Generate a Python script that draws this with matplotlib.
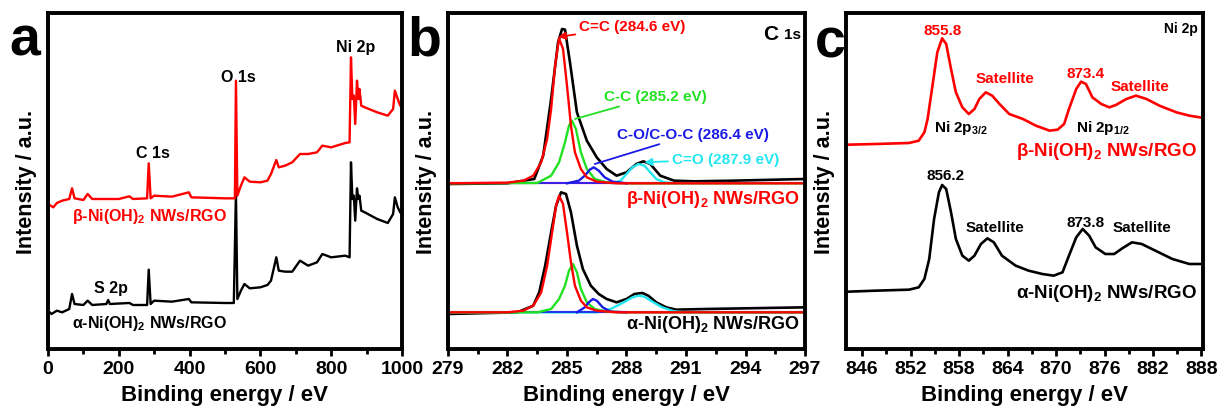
import numpy as np
import matplotlib
matplotlib.use('Agg')
import matplotlib.pyplot as plt

plt.rcParams['font.family'] = ['Liberation Sans', 'DejaVu Sans']
plt.rcParams['font.weight'] = 'bold'
plt.rcParams['mathtext.fontset'] = 'custom'
plt.rcParams['mathtext.rm'] = 'Liberation Sans:bold'
plt.rcParams['mathtext.it'] = 'Liberation Sans:bold'
plt.rcParams['mathtext.bf'] = 'Liberation Sans:bold'

# ---- panel a : survey spectra (binding energy eV, intensity a.u.)
sv_be_beta = [0, 15, 25, 40, 60, 68, 75, 100, 112, 125, 200, 230, 240, 280, 284.6, 290, 300, 350, 398, 405,
              500, 528, 531, 535, 545, 555, 570, 600, 620, 630, 645, 652, 670, 690, 712, 735, 760, 775, 800,
              840, 852, 856, 860, 864, 868, 873, 877, 880, 885, 895, 930, 960, 975, 980, 988, 995, 1000]
sv_int_beta = [43.5, 42.5, 43.8, 44.5, 45, 48.2, 45.2, 44.7, 46.5, 45, 45, 45.8, 45, 45.2, 55.7, 45.2, 46, 45.7, 47, 45.5,
               45.2, 45.2, 80.5, 46, 49, 51.5, 50.2, 50, 50.5, 52.5, 56.7, 54.5, 55, 56, 58.5, 58.5, 59, 61, 60.5,
               61.8, 62, 87.5, 75, 76, 67.5, 80.5, 75, 78, 73, 72.5, 71, 70, 72, 77.5, 75, 73, 73.2]
sv_be_alpha = [0, 10, 25, 40, 60, 68, 75, 100, 112, 125, 165, 170, 175, 230, 240, 280, 284.6, 290, 300, 350, 398, 405,
               500, 525, 531, 535, 545, 555, 570, 600, 620, 630, 645, 652, 670, 690, 712, 735, 760, 775, 800,
               840, 852, 856, 860, 864, 868, 873, 877, 880, 885, 895, 930, 960, 975, 980, 988, 995, 1000]
sv_int_alpha = [11.5, 10.5, 11.5, 11, 12, 16.5, 13.5, 13.2, 14.5, 13.2, 13.5, 14.7, 13.5, 13.8, 13.2, 13.2, 23.8, 13.5, 14.5, 14.2, 15, 14,
                13.8, 13.8, 47, 15, 17.5, 19.5, 18.2, 18.5, 19.2, 20.5, 27.5, 23.5, 23.2, 23.2, 26.5, 25, 26, 28.5, 27.5,
                28, 27.5, 56, 45, 46, 38.5, 48.2, 45, 46, 41.5, 41, 39, 37.8, 40.5, 45.5, 42.5, 41, 40.5]

# ---- panel b : C 1s
c_be_beta = [279, 282, 283.35, 283.8, 284.2, 284.55, 284.75, 284.9, 285.15, 285.5, 286.0, 286.5, 287.0, 287.5,
             288.0, 288.5, 288.85, 289.2, 289.7, 290.4, 291.4, 293.4, 297]
c_int_beta = [49.5, 49.7, 51, 58, 75, 92, 96, 95.8, 86, 71, 62.5, 57.5, 54, 52,
              53, 55.5, 56.3, 55.5, 52, 50.5, 50.3, 50.5, 51]
cc_be_beta = [279, 282, 282.8, 283.3, 283.7, 284.0, 284.2, 284.4, 284.6, 284.8, 285.0, 285.2, 285.4, 285.7, 286.0, 286.5, 287.5, 297]
cc_int_beta = [49.7, 49.9, 50.5, 52, 56, 63, 72, 85, 93.2, 90, 79, 67, 59, 54, 51.5, 50.2, 49.7, 49.7]
c1_be_beta = [279, 283.5, 284.2, 284.6, 284.9, 285.1, 285.25, 285.45, 285.7, 286.0, 286.4, 287, 288, 297]
c1_int_beta = [49.7, 49.8, 52, 56, 62, 67, 68.5, 66, 59, 54, 51, 50, 49.7, 49.7]
co_be_beta = [285.0, 285.6, 285.9, 286.15, 286.35, 286.6, 286.9, 287.3, 288]
co_int_beta = [49.7, 50.5, 52, 53.8, 54.5, 53.5, 51.5, 50.2, 49.7]
cdo_be_beta = [287.3, 287.7, 288.0, 288.3, 288.6, 288.9, 289.2, 289.5, 289.9, 290.5]
cdo_int_beta = [49.7, 50.5, 52.5, 54.5, 55.5, 55, 53, 51, 50, 49.7]

c_be_alpha = [279, 282.5, 283.3, 283.6, 283.9, 284.2, 284.45, 284.7, 284.95, 285.2, 285.5, 285.8, 286.2, 286.6,
              287.0, 287.5, 288.0, 288.4, 288.8, 289.1, 289.5, 290.0, 290.5, 292, 297]
c_int_alpha = [10.5, 11, 13, 17, 25, 35, 43, 47, 46.5, 41, 31, 24, 19, 16.5,
               15, 14, 15, 16.5, 16.8, 16, 14, 12.5, 11.8, 12, 12.5]
cc_be_alpha = [279, 282, 282.8, 283.3, 283.7, 284.0, 284.25, 284.45, 284.6, 284.8, 285.0, 285.2, 285.4, 285.7, 286.0, 286.5, 287.5, 297]
cc_int_alpha = [11, 11, 11.5, 13, 17, 25, 35, 43, 46, 43.5, 35, 26, 19, 14.5, 12.5, 11.5, 11, 11]
c1_be_alpha = [279, 283.5, 284.2, 284.6, 284.9, 285.1, 285.3, 285.5, 285.7, 286.0, 286.4, 287, 288, 297]
c1_int_alpha = [11, 11, 12, 15, 19, 23.5, 25.5, 23, 18, 14, 12, 11.2, 11, 11]
co_be_alpha = [285.5, 285.9, 286.1, 286.3, 286.5, 286.8, 287.2, 288]
co_int_alpha = [11, 12.5, 14, 15, 14.5, 12.5, 11.2, 11]
cdo_be_alpha = [279, 286.5, 287.2, 287.8, 288.3, 288.6, 288.9, 289.3, 289.8, 290.4, 291, 297]
cdo_int_alpha = [11, 11, 12, 13.8, 15.5, 16, 15.7, 14.2, 12.5, 11.3, 11, 11]
base_beta = 49.7
base_alpha = 11

# ---- panel c : Ni 2p
ni_be = [844.3, 847.7, 851.8, 853.0, 853.7, 854.1, 854.7, 855.3, 855.9, 856.4, 857.0, 857.6, 858.4, 859.2, 859.9,
         860.5, 861.3, 862.1, 863.0, 864.2, 865.9, 867.5, 869.2, 870.2, 871.0, 871.6, 872.5, 873.1, 873.7, 874.5,
         875.6, 876.6, 877.4, 878.7, 879.9, 881.2, 882.8, 884.9, 886.5, 887.8]
ni_int_beta = [61.3, 61.5, 61.8, 62.5, 65, 69, 79, 89, 93.2, 91.5, 84, 77, 72.5, 70.5, 72,
               75, 77, 76, 73.5, 70.5, 69, 67, 65.5, 65.8, 67.5, 72, 78, 80.2, 79.5, 75.5,
               73.5, 72.5, 73.2, 75, 76, 75, 73, 71, 70, 69.5]
ni_be_alpha = [844.3, 847.7, 851.8, 853.0, 853.7, 854.3, 854.9, 855.5, 855.9, 856.4, 857.0, 857.6, 858.4, 859.2, 859.9,
               860.7, 861.5, 862.3, 863.3, 865.0, 866.6, 868.3, 869.7, 870.8, 871.6, 872.5, 873.3, 874.1, 874.9,
               876.1, 877.2, 878.2, 879.4, 880.6, 882.3, 884.4, 886.5, 887.8]
ni_int_alpha = [17.2, 17.5, 17.8, 18.5, 21, 27, 39, 47, 49.2, 48, 41, 33, 28, 26.5, 28,
                31.5, 33.2, 32, 28, 25, 23.5, 22.5, 22, 23, 28, 33.5, 36, 34, 30.5,
                28.5, 28.5, 30.2, 32, 31.5, 29.5, 27, 25.5, 25.5]

fig = plt.figure(figsize=(12.21, 4.14), dpi=100)
axa = fig.add_axes([0.0393, 0.1546, 0.2899, 0.8116])
axb = fig.add_axes([0.3669, 0.1546, 0.2924, 0.8116])
axc = fig.add_axes([0.6929, 0.1546, 0.2924, 0.8116])

red = '#ff0000'
for ax in (axa, axb, axc):
    for s in ax.spines.values():
        s.set_linewidth(2.8)
    ax.set_yticks([])
    ax.set_ylim(0, 100.8)
    ax.tick_params(axis='x', which='major', direction='out', length=5, width=2, labelsize=14, pad=3)
    ax.tick_params(axis='x', which='minor', direction='out', length=3.5, width=2)
    ax.set_xlabel('Binding energy / eV', fontsize=16, fontweight='bold', labelpad=5)
    ax.set_ylabel('Intensity / a.u.', fontsize=15.5, fontweight='bold', labelpad=8)
    for t in ax.get_xticklabels():
        t.set_fontweight('bold')

# panel a
axa.plot(sv_be_alpha, sv_int_alpha, color='k', lw=1.7)
axa.plot(sv_be_beta, sv_int_beta, color=red, lw=1.7)
axa.set_xlim(0, 1000)
axa.set_xticks(np.arange(0, 1001, 200))
axa.set_xticks(np.arange(100, 1000, 200), minor=True)
fs = 11.5
axa.text(297, 58.8, 'C 1s', fontsize=fs, ha='center', va='center')
axa.text(539, 81.8, 'O 1s', fontsize=fs, ha='center', va='center')
axa.text(869, 90.8, 'Ni 2p', fontsize=fs, ha='center', va='center')
axa.text(179, 18.5, 'S 2p', fontsize=fs, ha='center', va='center')
axa.text(287, 40, r'β-Ni(OH)$_2$ NWs/RGO', fontsize=11.5, color=red, ha='center', va='center')
axa.text(287, 8, r'α-Ni(OH)$_2$ NWs/RGO', fontsize=11.5, color='k', ha='center', va='center')

# panel b
green = '#22e022'
blue = '#1a1ae6'
cyan = '#22e6f0'
for be_k, i_k, be_r, i_r, be_g, i_g, be_b, i_b, be_c, i_c, base in [
        (c_be_beta, c_int_beta, cc_be_beta, cc_int_beta, c1_be_beta, c1_int_beta, co_be_beta, co_int_beta,
         cdo_be_beta, cdo_int_beta, base_beta),
        (c_be_alpha, c_int_alpha, cc_be_alpha, cc_int_alpha, c1_be_alpha, c1_int_alpha, co_be_alpha, co_int_alpha,
         cdo_be_alpha, cdo_int_alpha, base_alpha)]:
    axb.plot(be_k, i_k, color='k', lw=1.9)
    axb.plot([279, 297], [base, base], color='#e040e0', lw=1.6)
    axb.plot(be_c, i_c, color=cyan, lw=1.7)
    axb.plot([279, 297], [base, base], color=blue, lw=1.2)
    axb.plot(be_g, i_g, color=green, lw=1.7)
    axb.plot(be_b, i_b, color=blue, lw=1.7)
    axb.plot(be_r, i_r, color=red, lw=1.7)
axb.set_xlim(279, 297)
axb.set_xticks(np.arange(279, 297.1, 3))
axb.set_xticks(np.arange(280.5, 297, 3), minor=True)
fs = 11
axb.annotate('C=C (284.6 eV)', xy=(284.55, 93.6), xytext=(285.63, 96.9), fontsize=fs, color=red,
             ha='left', va='center', arrowprops=dict(arrowstyle='-|>', color=red, lw=1.3, shrinkA=1, shrinkB=0))
axb.annotate('C-C (285.2 eV)', xy=(285.4, 69), xytext=(286.85, 75.8), fontsize=fs, color=green,
             ha='left', va='center', arrowprops=dict(arrowstyle='-', color=green, lw=1.3, shrinkA=1, shrinkB=0))
axb.annotate('C-O/C-O-C (286.4 eV)', xy=(286.4, 55.5), xytext=(287.5, 64.5), fontsize=fs, color=blue,
             ha='left', va='center', arrowprops=dict(arrowstyle='-', color=blue, lw=1.3, shrinkA=1, shrinkB=0))
axb.annotate('C=O (287.9 eV)', xy=(288.9, 56), xytext=(290.3, 57), fontsize=fs, color=cyan,
             ha='left', va='center', arrowprops=dict(arrowstyle='-|>', color=cyan, lw=1.3, shrinkA=1, shrinkB=0))
axb.text(296.8, 94.5, '1s', fontsize=11, ha='right', va='center')
axb.text(295.65, 94.7, 'C', fontsize=15, ha='right', va='center')
axb.text(296.75, 45, r'β-Ni(OH)$_2$ NWs/RGO', fontsize=13, color=red, ha='right', va='center')
axb.text(296.75, 7.5, r'α-Ni(OH)$_2$ NWs/RGO', fontsize=13, color='k', ha='right', va='center')

# panel c
axc.plot(ni_be, ni_int_beta, color=red, lw=1.9)
axc.plot(ni_be_alpha, ni_int_alpha, color='k', lw=1.9)
axc.set_xlim(844, 888.2)
axc.set_xticks(np.arange(846, 889, 6))
axc.set_xticks(np.arange(849, 888, 6), minor=True)
fs = 11
axc.text(856.0, 95.8, '855.8', fontsize=fs, color=red, ha='center', va='center')
axc.text(863.7, 81.2, 'Satellite', fontsize=fs, color=red, ha='center', va='center')
axc.text(873.7, 82.8, '873.4', fontsize=fs, color=red, ha='center', va='center')
axc.text(880.4, 78.8, 'Satellite', fontsize=fs, color=red, ha='center', va='center')
axc.text(858.2, 66.5, r'Ni 2p$_{3/2}$', fontsize=fs, ha='center', va='center')
axc.text(875.8, 66.5, r'Ni 2p$_{1/2}$', fontsize=fs, ha='center', va='center')
axc.text(887.4, 59.5, r'β-Ni(OH)$_2$ NWs/RGO', fontsize=13.5, color=red, ha='right', va='center')
axc.text(856.3, 52.3, '856.2', fontsize=fs, ha='center', va='center')
axc.text(862.5, 36.5, 'Satellite', fontsize=fs, ha='center', va='center')
axc.text(873.7, 38.2, '873.8', fontsize=fs, ha='center', va='center')
axc.text(880.7, 36.5, 'Satellite', fontsize=fs, ha='center', va='center')
axc.text(887.4, 17, r'α-Ni(OH)$_2$ NWs/RGO', fontsize=13.5, color='k', ha='right', va='center')
axc.text(887.6, 96.2, 'Ni 2p', fontsize=10, ha='right', va='center')

# panel letters
fig.text(0.008, 0.865, 'a', fontsize=40, fontweight='bold')
fig.text(0.334, 0.865, 'b', fontsize=40, fontweight='bold')
fig.text(0.667, 0.86, 'c', fontsize=40, fontweight='bold')

fig.savefig('out.png', dpi=100)
